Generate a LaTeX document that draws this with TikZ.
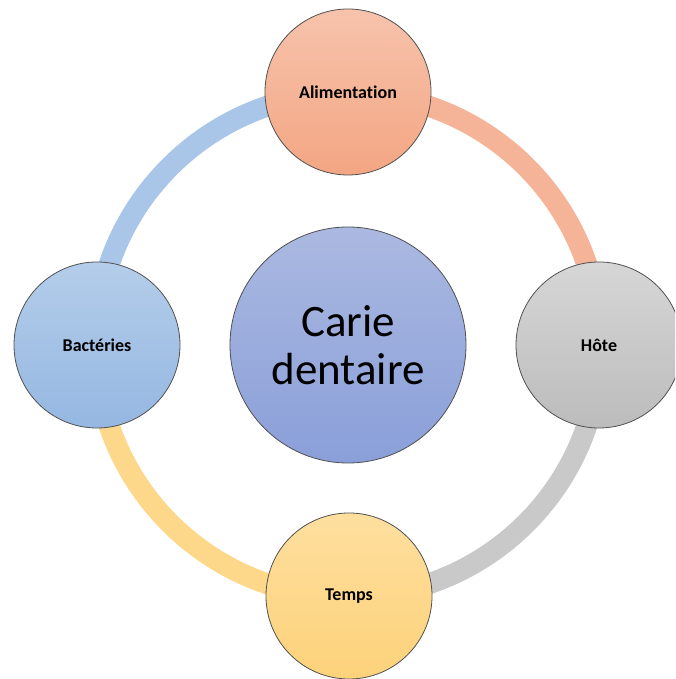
\documentclass[tikz,border=0pt]{standalone}
\usepackage{fontspec}
\setmainfont{Carlito}[Ligatures=NoCommon]
\definecolor{salA}{HTML}{F7C3AC}
\definecolor{salB}{HTML}{F3A683}
\definecolor{salR}{HTML}{F5B498}
\definecolor{grA}{HTML}{D6D6D6}
\definecolor{grB}{HTML}{BCBCBC}
\definecolor{grR}{HTML}{C9C9C9}
\definecolor{yeA}{HTML}{FEDF9F}
\definecolor{yeB}{HTML}{FDD27A}
\definecolor{yeR}{HTML}{FDD78A}
\definecolor{blA}{HTML}{B4CDEA}
\definecolor{blB}{HTML}{95B7E1}
\definecolor{blR}{HTML}{A9C5E7}
\definecolor{ceA}{HTML}{ABB9E1}
\definecolor{ceB}{HTML}{8A9FD9}
\definecolor{edge}{HTML}{505050}
\begin{document}
\begin{tikzpicture}[x=1pt,y=1pt,
  ringarc/.style={line width=21pt},
  sat/.style={circle, draw=edge, line width=0.8pt, minimum size=166pt, inner sep=0pt, outer sep=0pt,
    font=\fontsize{18}{22}\selectfont\bfseries, text=black},
  core/.style={circle, draw=edge, line width=0.8pt, minimum size=236pt, inner sep=0pt, outer sep=0pt,
    align=center, font=\fontsize{45}{48}\selectfont, text=black}]
\useasboundingbox (0,0) rectangle (675,679);
\clip (0,0) rectangle (675,679);
\coordinate (rc) at (348,334);
\draw[ringarc, salR] ([shift={(90:252)}]rc) arc[start angle=90, end angle=0, radius=252];
\draw[ringarc, grR] ([shift={(0:252)}]rc) arc[start angle=0, end angle=-90, radius=252];
\draw[ringarc, yeR] ([shift={(-90:252)}]rc) arc[start angle=-90, end angle=-180, radius=252];
\draw[ringarc, blR] ([shift={(180:252)}]rc) arc[start angle=180, end angle=90, radius=252];
\node[core, top color=ceA, bottom color=ceB] (carie) at (rc) {Carie\\dentaire};
\node[sat, top color=salA, bottom color=salB] (alim) at (348,587) {Alimentation};
\node[sat, top color=grA, bottom color=grB] (hote) at (599,334) {Hôte};
\node[sat, top color=yeA, bottom color=yeB] (temps) at (349,83) {Temps};
\node[sat, top color=blA, bottom color=blB] (bact) at (97,334) {Bactéries};
\end{tikzpicture}
\end{document}
